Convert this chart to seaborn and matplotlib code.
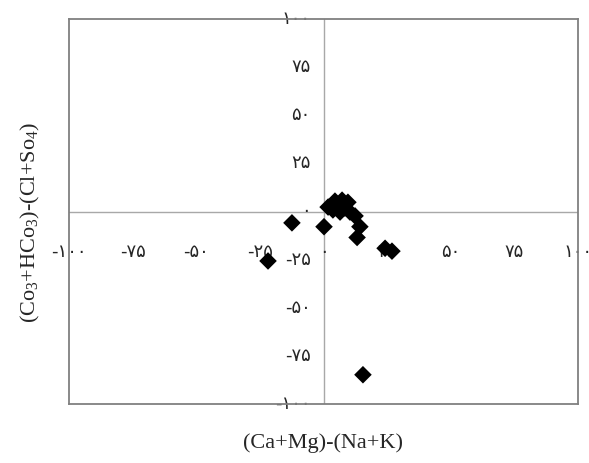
import matplotlib.pyplot as plt
import pandas as pd
import seaborn as sns

# Cation balance vs anion balance
ca_mg_minus_na_k = [-21.8, -12.4, 0.2, 1.8, 3.7, 4.5, 5.7, 6.5, 7.3, 8.4, 9.6,
                    10.4, 12.4, 14.3, 13.2, 24.2, 26.9, 15.5]
co3_hco3_minus_cl_so4 = [-25.7, -5.9, -7.9, 2.3, 0.8, 5.4, 1.8, -0.3, 5.9, 1.8, 4.8,
                         -0.3, -2.3, -7.9, -13.5, -19.1, -20.6, -84.8]

tick_values = [-100, -75, -50, -25, 0, 25, 50, 75, 100]
tick_labels = ['-۱۰۰', '-۷۵', '-۵۰', '-۲۵', '۰', '۲۵', '۵۰', '۷۵', '۱۰۰']

X_LABEL = '(Ca+Mg)-(Na+K)'
Y_LABEL = '(Co$_3$+HCo$_3$)-(Cl+So$_4$)'

df = pd.DataFrame({'x': ca_mg_minus_na_k, 'y': co3_hco3_minus_cl_so4})

sns.set_style('white')
plt.rcParams['mathtext.fontset'] = 'custom'
plt.rcParams['mathtext.rm'] = 'Liberation Serif'
plt.rcParams['mathtext.it'] = 'Liberation Serif'

fig = plt.figure(figsize=(5.89, 4.63), dpi=100)
ax = fig.add_axes([69 / 589, 1 - 404 / 463, (578 - 69) / 589, (404 - 19) / 463])

# axis cross through the origin
ax.axhline(0, color='#a8a8a8', lw=1, zorder=1)
ax.axvline(0, color='#a8a8a8', lw=1, zorder=1)

sns.scatterplot(data=df, x='x', y='y', marker='D', color='black', s=80,
                edgecolor='none', ax=ax, zorder=3)

ax.set_xlim(-100, 100)
ax.set_ylim(-100, 100)
ax.set_xticks([])
ax.set_yticks([])
ax.set_xlabel('')
ax.set_ylabel('')

for side in ['left', 'right', 'top', 'bottom']:
    ax.spines[side].set_color('#808080')
    ax.spines[side].set_linewidth(1.3)

# tick labels sit next to the centre lines (Excel style)
for v, lab in zip(tick_values, tick_labels):
    ax.text(v, -21, lab, ha='center', va='center', fontsize=13,
            family='DejaVu Sans', clip_on=False, zorder=2)
    ax.text(-5, v, lab, ha='right', va='center', fontsize=13,
            family='DejaVu Sans', clip_on=False, zorder=2)

fig.text(323 / 589, 1 - 443 / 463, X_LABEL, ha='center', va='center',
         fontsize=16, family='Liberation Serif')
fig.text(30 / 589, 1 - 222 / 463, Y_LABEL, ha='center', va='center',
         rotation=90, fontsize=16, family='Liberation Serif')

fig.savefig('out.png', dpi=100)
